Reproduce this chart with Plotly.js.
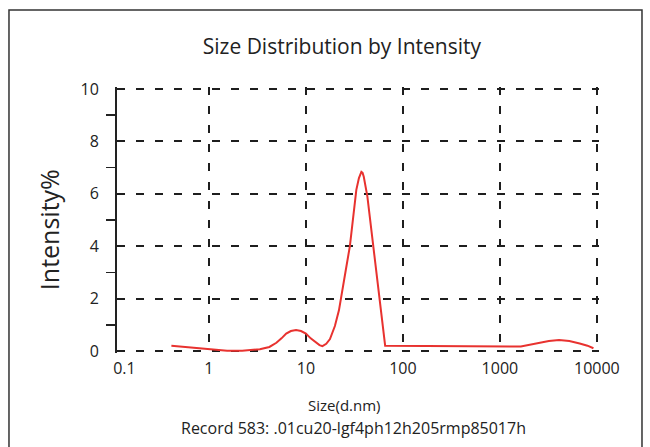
<!DOCTYPE html>
<html>
<head>
<meta charset="utf-8">
<script src="https://cdn.plot.ly/plotly-3.0.1.min.js"></script>
<style>
  html, body { margin: 0; padding: 0; background: #ffffff; }
  #chart { width: 650px; height: 447px; }
</style>
</head>
<body>
<div id="chart"></div>
<script>
// ---- data ----
const sizeNm = [0.41, 0.6, 1.0, 1.54, 2.2, 3.35, 4.2, 4.96, 5.6, 6.26, 7.0, 7.91, 8.9, 10, 11.2, 12.7, 13.8, 14.8, 16.2, 17.7, 19.9, 21.9, 23.3, 25.8, 28.4, 30.8, 33.1, 35.2, 36.3, 37.3, 38.4, 39.5, 43.0, 46.0, 49.2, 52.5, 56.2, 59.2, 62.2, 65.6, 1645, 2495, 3200, 4075, 5200, 6650, 8000, 9220];
const intensityPct = [0.2, 0.14, 0.06, 0.01, 0.01, 0.06, 0.15, 0.31, 0.48, 0.66, 0.76, 0.80, 0.76, 0.66, 0.48, 0.31, 0.22, 0.18, 0.27, 0.45, 0.95, 1.55, 2.2, 3.1, 4.0, 5.1, 6.15, 6.6, 6.78, 6.84, 6.8, 6.65, 5.9, 5.0, 4.0, 3.2, 2.38, 1.65, 1.01, 0.2, 0.17, 0.31, 0.38, 0.42, 0.38, 0.28, 0.2, 0.1];

const xTickVals = [1, 10, 100, 1000, 10000];
const xTickText = ['1', '10', '100', '1000', '10000'];
const xFirstTickVal = [0.1346];
const xFirstTickText = ['0.1'];
const yTickVals = [0, 2, 4, 6, 8, 10];
const yTickText = ['0', '2', '4', '6', '8', '10'];
const yMinorVals = [1, 3, 5, 7, 9];

const chartTitle = 'Size Distribution by Intensity';
const xTitle = 'Size(d.nm)';
const yTitle = 'Intensity%';
const recordText = 'Record 583: .01cu20-lgf4ph12h205rmp85017h';

const FONT = 'Open Sans, Lato, DejaVu Sans, sans-serif';
const TXT = '#222222';
// small padding so the edge grid lines (0, 10, 10000) are kept by Plotly
const xRange = [-0.948, 4.022];
const yRange = [-0.08, 10.08];

const trace = {
  x: sizeNm, y: intensityPct,
  type: 'scatter', mode: 'lines',
  line: { color: '#e8322f', width: 2 },
  hoverinfo: 'skip', showlegend: false
};
const dummy = {
  x: [1], y: [0], xaxis: 'x2', yaxis: 'y', type: 'scatter', mode: 'markers',
  marker: { opacity: 0 }, hoverinfo: 'skip', showlegend: false
};

const grid = { showgrid: true, gridcolor: '#1e1e1e', gridwidth: 2, griddash: '8px,11px' };

const layout = {
  width: 650, height: 447,
  margin: { l: 117, r: 51, t: 87, b: 94 },
  paper_bgcolor: '#ffffff', plot_bgcolor: '#ffffff',
  font: { family: FONT, color: TXT, size: 16 },
  title: { text: chartTitle, font: { family: FONT, size: 21, color: TXT },
           xref: 'container', yref: 'container', x: 0.526, y: 0.895,
           xanchor: 'center', yanchor: 'middle' },
  xaxis: Object.assign({
    type: 'log', range: xRange, fixedrange: true,
    tickmode: 'array', tickvals: xTickVals, ticktext: xTickText,
    ticks: '', showline: false, zeroline: false,
    ticklabelstandoff: 4,
    tickfont: { family: FONT, size: 16, color: TXT }
  }, grid),
  xaxis2: {
    type: 'log', range: xRange, overlaying: 'x', anchor: 'y', side: 'bottom',
    tickmode: 'array', tickvals: xFirstTickVal, ticktext: xFirstTickText,
    ticks: '', showline: false, showgrid: false, zeroline: false,
    ticklabelstandoff: 4,
    tickfont: { family: FONT, size: 16, color: TXT }
  },
  yaxis: Object.assign({
    range: yRange, fixedrange: true,
    tickmode: 'array', tickvals: yTickVals, ticktext: yTickText,
    ticks: '', ticklabelstandoff: 13,
    showline: true, linecolor: '#222222', linewidth: 2, mirror: false,
    zeroline: false,
    tickfont: { family: FONT, size: 16, color: TXT },
    minor: { tickmode: 'array', tickvals: yMinorVals, ticks: 'outside', ticklen: 9,
             tickwidth: 1.6, tickcolor: '#222222', showgrid: false }
  }, grid),
  annotations: [
    { text: yTitle, xref: 'paper', yref: 'paper', x: -0.141, y: 0.462,
      textangle: -90, showarrow: false, xanchor: 'center', yanchor: 'middle',
      font: { family: FONT, size: 25, color: TXT } },
    { text: xTitle, xref: 'paper', yref: 'paper', x: 0.473, y: -0.196,
      showarrow: false, xanchor: 'center', yanchor: 'middle',
      font: { family: FONT, size: 15, color: TXT } },
    { text: recordText, xref: 'paper', yref: 'paper', x: 0.490, y: -0.283,
      showarrow: false, xanchor: 'center', yanchor: 'middle',
      font: { family: FONT, size: 16, color: TXT } }
  ],
  shapes: [
    { type: 'rect', xref: 'paper', yref: 'paper',
      x0: -0.2241, x1: 1.0892, y0: -0.45, y1: 1.2895,
      line: { color: '#333333', width: 1.5 }, fillcolor: 'rgba(0,0,0,0)', layer: 'below' }
  ]
};

Plotly.newPlot('chart', [trace, dummy], layout, { displayModeBar: false, staticPlot: true });
</script>
</body>
</html>
